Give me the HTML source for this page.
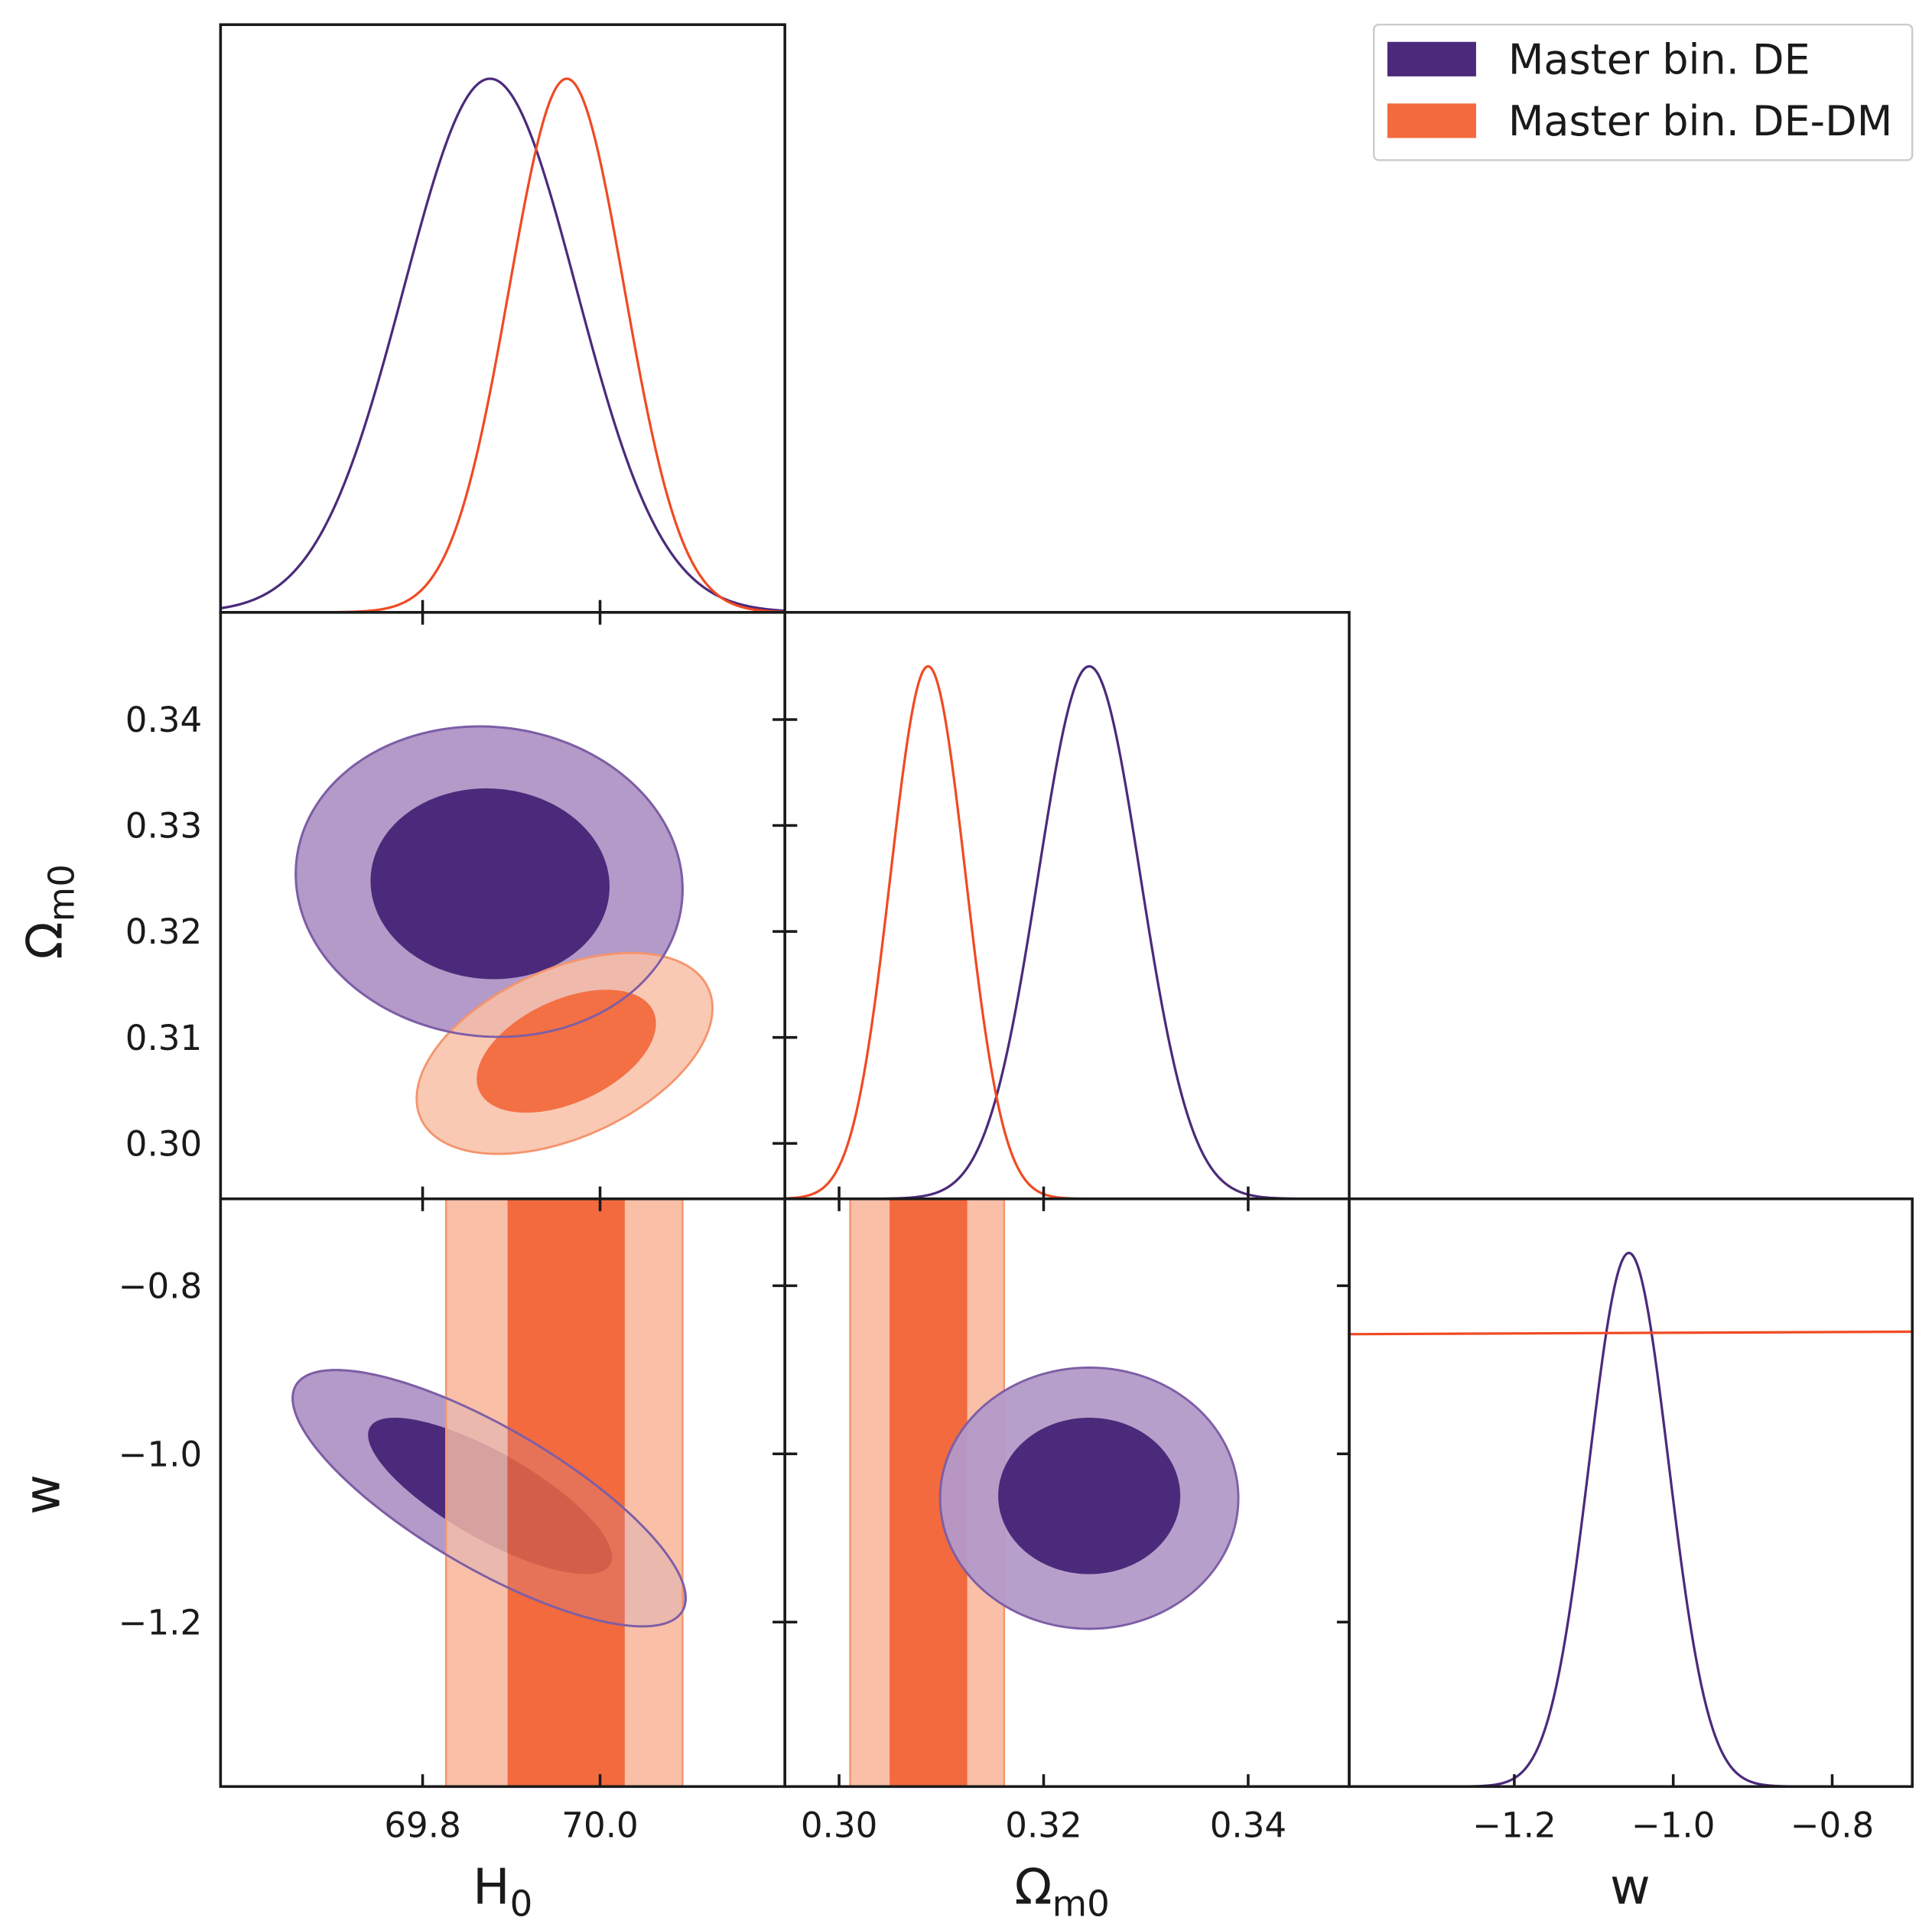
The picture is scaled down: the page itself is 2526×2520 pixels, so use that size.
<!DOCTYPE html>
<html><head><meta charset="utf-8"><style>
html,body{margin:0;padding:0;background:#fff}
svg{display:block}
text{font-family:"DejaVu Sans","Liberation Sans",sans-serif;fill:#1a1a1a}
</style></head><body>
<svg id="fig" width="2526" height="2520" viewBox="0 0 1568 1564" preserveAspectRatio="none" xmlns="http://www.w3.org/2000/svg"></svg>
<script>
// ---- data ----
const h0Ticks = [69.8, 70.0];
const omTicks = [0.30, 0.32, 0.34];
const omYTicks = [0.30, 0.31, 0.32, 0.33, 0.34];
const wTicks = [-1.2, -1.0, -0.8];
const wYTicks = [-1.2, -1.0, -0.8];
// 1D marginals: [mean, sigma]
const h0DE = [69.876, 0.0974];
const h0DEDM = [69.9625, 0.065];
const omDE = [0.32446, 0.0050];
const omDEDM = [0.3087, 0.00368];
const wDE = [-1.0558, 0.050];
const wDEDMFlatLevel = [0.85];
// 2D contours: [cx, cy, sx, sy, rho]
const h0omDEouter = [69.875, 0.3247, 0.218, 0.01465, -0.05];
const h0omDEinner = [69.876, 0.3245, 0.1347, 0.0090, -0.03];
const h0omDEDMouter = [69.96, 0.30849, 0.1667, 0.00948, 0.45];
const h0omDEDMinner = [69.962, 0.3087, 0.101, 0.0058, 0.45];
const h0wDEouter = [69.875, -1.0527, 0.2215, 0.1524, -0.78];
const h0wDEinner = [69.876, -1.050, 0.1375, 0.093, -0.78];
const h0wDEDMouter = [69.8264, 70.093];
const h0wDEDMinner = [69.8958, 70.0278];
const omwDEouter = [0.32446, -1.0527, 0.01458, 0.1553, 0.0];
const omwDEinner = [0.32446, -1.050, 0.0089, 0.093, 0.0];
const omwDEDMouter = [0.30108, 0.31614];
const omwDEDMinner = [0.30494, 0.31253];

// ---- layout ----
const C = [179, 637, 1095, 1552];
const R = [20, 497, 973, 1450];
const H0 = v => 343 + (v - 69.8) * 720;
const OMx = v => 681 + (v - 0.30) * 8300;
const OMy = v => 928 - (v - 0.30) * 8600;
const Wx = v => 1229 + (v + 1.2) * 645;
const Wy = v => 1180 - (v + 1.0) * 682.5;
const H0r = [69.572, 70.208], OMr = [0.2947, 0.3499], Wr = [-1.4078, -0.699];

const svg = document.getElementById('fig');
const NS = 'http://www.w3.org/2000/svg';
function el(tag, attrs, parent) {
  const e = document.createElementNS(NS, tag);
  for (const k in attrs) e.setAttribute(k, attrs[k]);
  (parent || svg).appendChild(e);
  return e;
}
const PUR = '#4b2a7b', PURL = '#b39ac8', PURE = '#7d5ea6';
const ORL = '#f04a24', ORF = '#f26a3e', ORLF = '#f9bfa7', ORE = '#f4956e';

function clip(id, c, r) {
  const cp = el('clipPath', {id: id});
  el('rect', {x: C[c], y: R[r], width: C[c+1]-C[c], height: R[r+1]-R[r]}, cp);
}
clip('p00',0,0); clip('p01',0,1); clip('p02',0,2); clip('p11',1,1); clip('p12',1,2); clip('p22',2,2);

function gauss1d(name, par, range, fx, c, r, color, clipId) {
  const top = R[r], bot = R[r+1], hgt = (bot - top) * 0.908;
  let d = '';
  for (let i = 0; i <= 400; i++) {
    const v = range[0] + (range[1]-range[0]) * i / 400;
    const y = bot - hgt * Math.exp(-0.5 * Math.pow((v - par[0]) / par[1], 2));
    d += (i ? 'L' : 'M') + fx(v).toFixed(2) + ',' + y.toFixed(2);
  }
  const p = el('path', {d: d, fill: 'none', stroke: color, 'stroke-width': 2, 'clip-path': 'url(#' + clipId + ')'});
  
  
}
function ellipse(name, par, fx, fy, fill, stroke, op, clipId) {
  let d = '';
  const s = Math.sqrt(1 - par[4]*par[4]);
  for (let i = 0; i <= 200; i++) {
    const t = 2 * Math.PI * i / 200;
    const vx = par[0] + par[2] * Math.cos(t);
    const vy = par[1] + par[3] * (par[4] * Math.cos(t) + s * Math.sin(t));
    d += (i ? 'L' : 'M') + fx(vx).toFixed(2) + ',' + fy(vy).toFixed(2);
  }
  const p = el('path', {d: d + 'Z', fill: fill, stroke: stroke || 'none', 'stroke-width': 1.8, 'fill-opacity': op, 'clip-path': 'url(#' + clipId + ')'});
  
  
}
function band(name, par, fx, r, fill, stroke, op) {
  const x0 = fx(par[0]), x1 = fx(par[1]);
  const p = el('rect', {x: x0, y: R[r], width: x1 - x0, height: R[r+1]-R[r], fill: fill, 'fill-opacity': op, stroke: stroke || 'none', 'stroke-width': 1.5});
  
  
}
function ringBand(name, outer, inner, fx, r, fill, stroke, op) {
  const a = fx(outer[0]), b = fx(outer[1]), c = fx(inner[0]), d2 = fx(inner[1]);
  const y0 = R[r], y1 = R[r+1];
  const d = 'M' + a + ',' + y0 + 'H' + c + 'V' + y1 + 'H' + a + 'Z' + 'M' + d2 + ',' + y0 + 'H' + b + 'V' + y1 + 'H' + d2 + 'Z';
  const p = el('path', {d: d, fill: fill, 'fill-opacity': op, stroke: 'none'});
  
  
  const o = el('rect', {x: a, y: y0, width: b - a, height: y1 - y0, fill: 'none', stroke: stroke, 'stroke-width': 1.5});
  
  
}

// H0 1D
gauss1d('h0-de-curve', h0DE, H0r, H0, 0, 0, PUR, 'p00');
gauss1d('h0-dedm-curve', h0DEDM, H0r, H0, 0, 0, ORL, 'p00');
// Om 1D
gauss1d('om-de-curve', omDE, OMr, OMx, 1, 1, PUR, 'p11');
gauss1d('om-dedm-curve', omDEDM, OMr, OMx, 1, 1, ORL, 'p11');
// w 1D
gauss1d('w-de-curve', wDE, Wr, Wx, 2, 2, PUR, 'p22');
{
  const y = R[3] - (R[3]-R[2]) * 0.908 * wDEDMFlatLevel[0];
  const l = el('line', {x1: C[2], x2: C[3], y1: y + 1, y2: y - 1, stroke: ORL, 'stroke-width': 2});
  
  
}
// H0-Om
ellipse('h0-om-de-outer', h0omDEouter, H0, OMy, PURL, PURE, 1, 'p01');
ellipse('h0-om-de-inner', h0omDEinner, H0, OMy, PUR, 'none', 1, 'p01');
ellipse('h0-om-dedm-outer', h0omDEDMouter, H0, OMy, ORLF, ORE, 0.85, 'p01');
ellipse('h0-om-dedm-inner', h0omDEDMinner, H0, OMy, ORF, 'none', 0.95, 'p01');
ellipse('h0-om-de-outline', h0omDEouter, H0, OMy, 'none', PURE, 0, 'p01');
// H0-w
band('h0-w-dedm-outer-base', h0wDEDMouter, H0, 2, ORLF, 'none', 1);
band('h0-w-dedm-inner-base', h0wDEDMinner, H0, 2, ORF, 'none', 1);
ellipse('h0-w-de-outer', h0wDEouter, H0, Wy, PURL, PURE, 1, 'p02');
ellipse('h0-w-de-inner', h0wDEinner, H0, Wy, PUR, 'none', 1, 'p02');
ringBand('h0-w-dedm-outer', h0wDEDMouter, h0wDEDMinner, H0, 2, ORLF, ORE, 0.8);
band('h0-w-dedm-inner', h0wDEDMinner, H0, 2, ORF, 'none', 0.82);
ellipse('h0-w-de-outline', h0wDEouter, H0, Wy, 'none', PURE, 0, 'p02');
// Om-w
band('om-w-dedm-outer', omwDEDMouter, OMx, 2, ORLF, ORE, 1);
band('om-w-dedm-inner', omwDEDMinner, OMx, 2, ORF, 'none', 1);
ellipse('om-w-de-outer', omwDEouter, OMx, Wy, PURL, PURE, 0.95, 'p12');
ellipse('om-w-de-inner', omwDEinner, OMx, Wy, PUR, 'none', 1, 'p12');

// frames
function frame(name, c, r) {
  const f = el('rect', {x: C[c], y: R[r], width: C[c+1]-C[c], height: R[r+1]-R[r], fill: 'none', stroke: '#1a1a1a', 'stroke-width': 2.2});
  
  
}
frame('panel-h0', 0, 0); frame('panel-h0-om', 0, 1); frame('panel-om', 1, 1);
frame('panel-h0-w', 0, 2); frame('panel-om-w', 1, 2); frame('panel-w', 2, 2);

function tick(x1, y1, x2, y2) { el('line', {x1, y1, x2, y2, stroke: '#1a1a1a', 'stroke-width': 2.2}); }
function label(txt, x, y, anchor, size, name) {
  const t = el('text', {x: x, y: y, 'text-anchor': anchor, 'font-size': size});
  t.textContent = txt;
  
  
  return t;
}
const fmt = (v, n) => (v < 0 ? '\u2212' : '') + Math.abs(v).toFixed(n);
const TS = 28;
h0Ticks.forEach(v => { const x = H0(v); tick(x, R[1]-10, x, R[1]+10); tick(x, R[2]-10, x, R[2]+10); tick(x, R[3]-10, x, R[3]);
  label(fmt(v,1), x, 1491, 'middle', TS, 'h0-tick-label'); });
omTicks.forEach(v => { const x = OMx(v); tick(x, R[2]-10, x, R[2]+10); tick(x, R[3]-10, x, R[3]);
  label(fmt(v,2), x, 1491, 'middle', TS, 'om-tick-label'); });
wTicks.forEach(v => { const x = Wx(v); tick(x, R[3]-10, x, R[3]);
  label(fmt(v,1), x, 1491, 'middle', TS, 'w-tick-label'); });
omYTicks.forEach(v => { const y = OMy(v); tick(C[1]-10, y, C[1]+10, y);
  label(fmt(v,2), 164, y + 10, 'end', TS, 'om-y-tick-label'); });
wYTicks.forEach(v => { const y = Wy(v); tick(C[1]-10, y, C[1]+10, y); tick(C[2]-10, y, C[2], y);
  label(fmt(v,1), 164, y + 10, 'end', TS, 'w-y-tick-label'); });

function sub(main, s, x, y, anchor, rot, name) {
  const t = el('text', {x: x, y: y, 'text-anchor': anchor, 'font-size': 40});
  if (rot) t.setAttribute('transform', 'rotate(-90 ' + x + ' ' + y + ')');
  const a = el('tspan', {}, t); a.textContent = main;
  if (s) { const b = el('tspan', {'font-size': 29, dy: 10}, t); b.textContent = s; }
  
  
}
sub('H', '0', 408, 1545, 'middle', false, 'x-axis-title-h0');
sub('\u03A9', 'm0', 862, 1545, 'middle', false, 'x-axis-title-om');
sub('w', '', 1323, 1545, 'middle', false, 'x-axis-title-w');
sub('\u03A9', 'm0', 50, 740, 'middle', true, 'y-axis-title-om');
sub('w', '', 48, 1213, 'middle', true, 'y-axis-title-w');

const lg = el('g', {});


el('rect', {x: 1115, y: 20, width: 437, height: 110, rx: 4, fill: '#fff', stroke: '#cccccc', 'stroke-width': 1.5}, lg);
const s1 = el('rect', {x: 1126, y: 34, width: 72, height: 28, fill: PUR}, lg);


const s2 = el('rect', {x: 1126, y: 84, width: 72, height: 28, fill: ORF}, lg);


const t1 = el('text', {x: 1224, y: 60, 'font-size': 33.5}, lg); t1.textContent = 'Master bin. DE';


const t2 = el('text', {x: 1224, y: 110, 'font-size': 33.5}, lg); t2.textContent = 'Master bin. DE-DM';


</script>
</body></html>
